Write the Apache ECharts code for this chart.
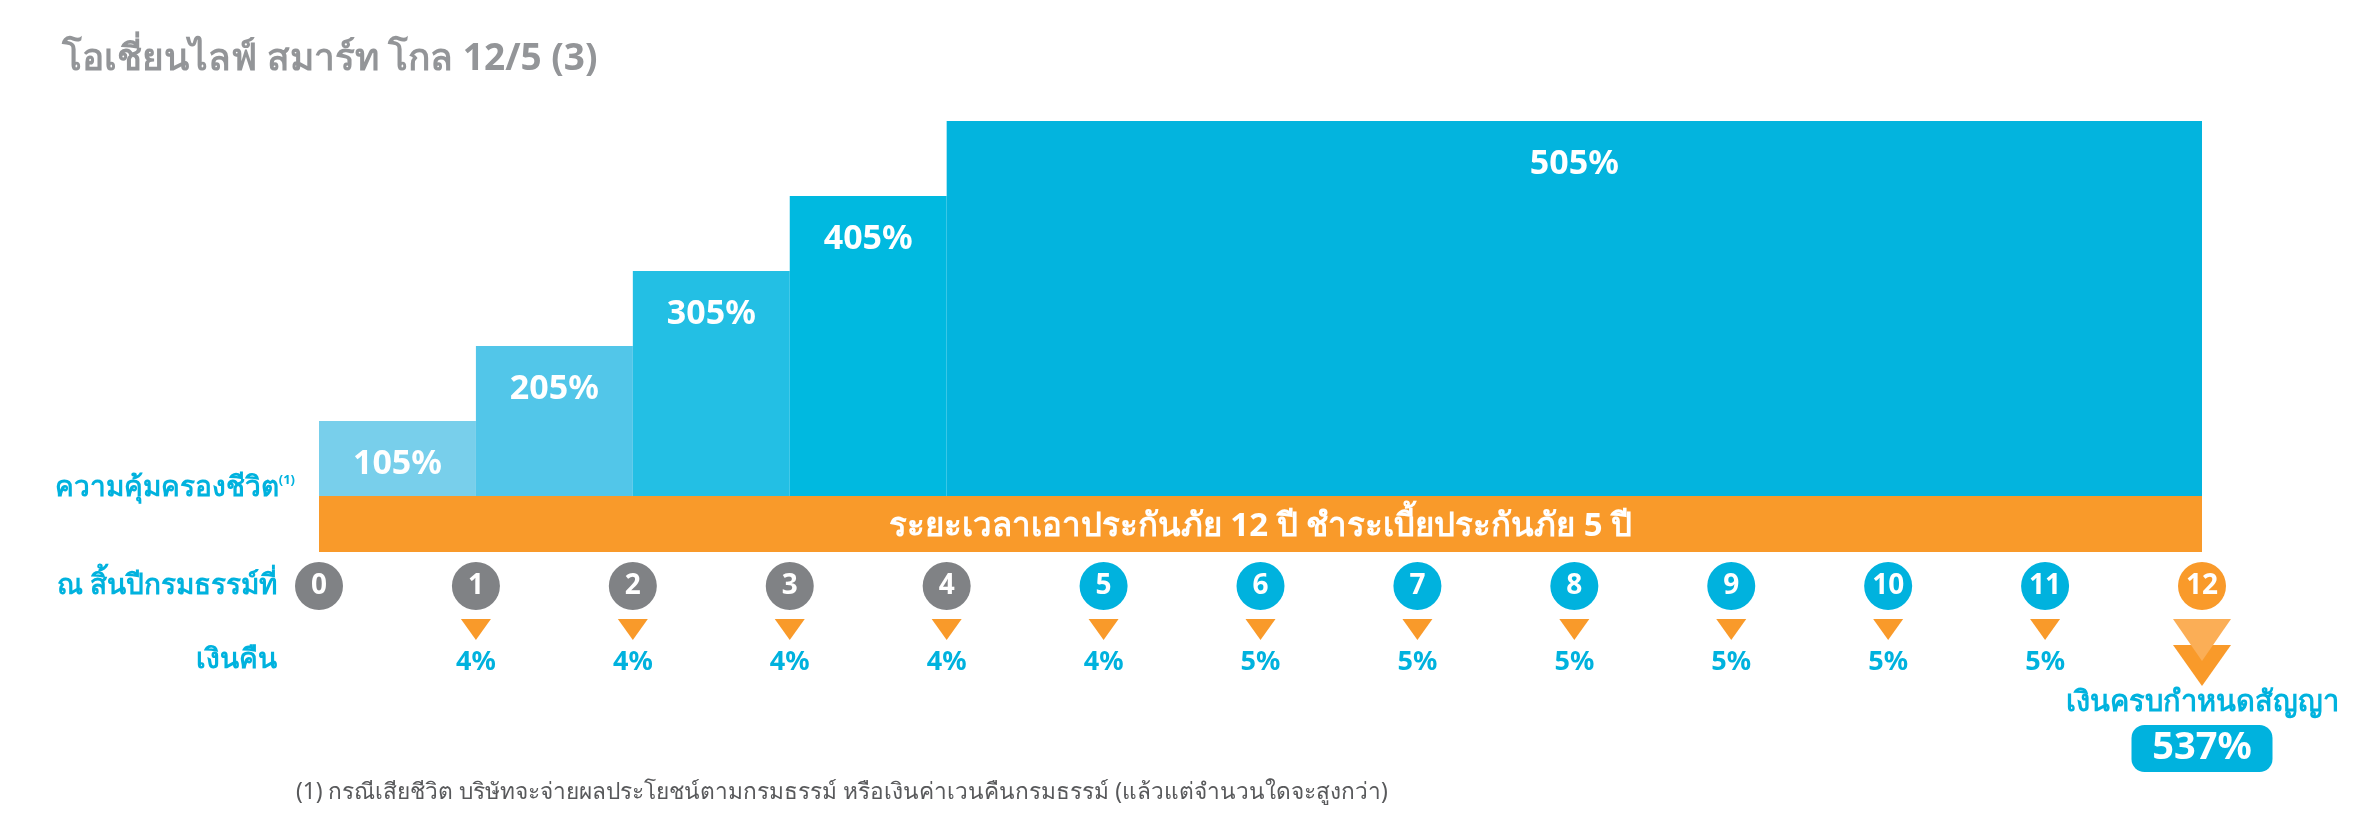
<!DOCTYPE html>
<html>
<head>
<meta charset="utf-8">
<title>โอเชี่ยนไลฟ์ สมาร์ท โกล 12/5 (3)</title>
<script src="https://cdn.jsdelivr.net/npm/echarts@6/dist/echarts.min.js"></script>
<style>
    html, body { margin: 0; background: #fff; }
    #main { width: 2362px; height: 827px; }
</style>
</head>
<body>
<div id="main"></div>
<script>
// coverage steps, policy years from/to and % of sum insured
var coverageFrom = [0, 1, 2, 3, 4];
var coverageTo = [1, 2, 3, 4, 12];
var coverageValues = [105, 205, 305, 405, 505];
var coverageColors = ['#78CFEB', '#52C6E9', '#23BFE4', '#00B9E0', '#03B4DE'];

var years = [0, 1, 2, 3, 4, 5, 6, 7, 8, 9, 10, 11, 12];
var paybackYears = [1, 2, 3, 4, 5, 6, 7, 8, 9, 10, 11];
var paybackValues = [4, 4, 4, 4, 4, 5, 5, 5, 5, 5, 5];
var maturityYear = 12;
var maturityValue = 537;

var policyYears = 12;
var premiumYears = 5;

var BLUE = '#00B2DE', ORANGE = '#F99A2A', GRAY = '#808285';
var FONT = '"Noto Sans", "Open Sans", sans-serif';

function yearColor(y) {
    if (y === maturityYear) return ORANGE;
    return y >= premiumYears ? BLUE : GRAY;
}

// rows under the chart, every row is its own grid on the same year scale
var grids = [
    { left: 319, width: 1883, top: 121, height: 375 },  // coverage steps
    { left: 319, width: 1883, top: 496, height: 56 },   // orange band
    { left: 319, width: 1883, top: 562, height: 48 },   // year circles
    { left: 319, width: 1883, top: 619, height: 21 },   // triangles
    { left: 319, width: 1883, top: 648, height: 24 },   // payback %
    { left: 319, width: 1883, top: 690, height: 26 },   // maturity caption
    { left: 319, width: 1883, top: 725, height: 47 }    // maturity box
];
var rowLabels = [null, '', 'ณ สิ้นปีกรมธรรม์ที่', '', 'เงินคืน', '', ''];

var xAxes = grids.map(function (g, i) {
    return { type: 'value', gridIndex: i, min: 0, max: policyYears, show: false };
});
var yAxes = grids.map(function (g, i) {
    if (i === 0) return { type: 'value', gridIndex: 0, min: 5, max: 505, show: false };
    return {
        type: 'category', gridIndex: i, data: [rowLabels[i]],
        axisLine: { show: false }, axisTick: { show: false },
        axisLabel: { margin: 42, fontFamily: FONT, fontSize: 28, fontWeight: 'bold', color: BLUE }
    };
});

var coverageData = coverageValues.map(function (v, i) {
    return [coverageFrom[i], coverageTo[i], v];
});

function renderStep(params, api) {
    var topLeft = api.coord([api.value(0), api.value(2)]);
    var bottomRight = api.coord([api.value(1), 5]);
    return {
        type: 'group',
        children: [{
            type: 'rect',
            shape: { x: topLeft[0], y: topLeft[1], width: bottomRight[0] - topLeft[0], height: bottomRight[1] - topLeft[1] },
            style: { fill: coverageColors[params.dataIndex] }
        }, {
            type: 'text',
            style: {
                text: api.value(2) + '%',
                x: (topLeft[0] + bottomRight[0]) / 2,
                y: topLeft[1] + 43,
                align: 'center', verticalAlign: 'middle',
                fill: '#fff', fontFamily: FONT, fontSize: 34, fontWeight: 'bold'
            }
        }]
    };
}

var chart = echarts.init(document.getElementById('main'));
var option = {
    animation: false,
    backgroundColor: '#fff',
    title: [{
        text: 'โอเชี่ยนไลฟ์ สมาร์ท โกล 12/5 (3)',
        left: 62, top: 41, padding: 0,
        textStyle: { fontFamily: FONT, fontSize: 37, fontWeight: 'bold', color: '#939598' }
    }, {
        text: 'ความคุ้มครองชีวิต{sup|(1)}',
        right: 2067, top: 474, padding: 0,
        textStyle: {
            fontFamily: FONT, fontSize: 28, fontWeight: 'bold', color: BLUE,
            rich: { sup: { fontFamily: FONT, fontSize: 13, fontWeight: 'bold', color: BLUE, verticalAlign: 'top', padding: [0, 0, 10, 0] } }
        }
    }, {
        text: '(1) กรณีเสียชีวิต บริษัทจะจ่ายผลประโยชน์ตามกรมธรรม์ หรือเงินค่าเวนคืนกรมธรรม์ (แล้วแต่จำนวนใดจะสูงกว่า)',
        left: 296, top: 781, padding: 0,
        textStyle: { fontFamily: FONT, fontSize: 22.7, fontWeight: 'normal', color: '#58595B' }
    }],
    grid: grids,
    xAxis: xAxes,
    yAxis: yAxes,
    series: [{
        type: 'custom',
        xAxisIndex: 0, yAxisIndex: 0,
        renderItem: renderStep,
        encode: { x: [0, 1], y: 2 },
        data: coverageData
    }, {
        type: 'bar',
        xAxisIndex: 1, yAxisIndex: 1,
        barWidth: '100%',
        data: [policyYears],
        itemStyle: { color: ORANGE },
        label: {
            show: true, position: 'inside', offset: [0, 3],
            formatter: 'ระยะเวลาเอาประกันภัย ' + policyYears + ' ปี ชำระเบี้ยประกันภัย ' + premiumYears + ' ปี',
            fontFamily: FONT, fontSize: 33, fontWeight: 'bold', color: '#fff'
        }
    }, {
        type: 'scatter',
        xAxisIndex: 2, yAxisIndex: 2,
        symbol: 'circle', symbolSize: 48,
        itemStyle: { opacity: 1 },
        data: years.map(function (y) {
            return { value: [y, 0], itemStyle: { color: yearColor(y), opacity: 1 } };
        }),
        label: {
            show: true, position: 'inside',
            formatter: function (p) { return p.value[0]; },
            fontFamily: FONT, fontSize: 28, fontWeight: 'bold', color: '#fff'
        }
    }, {
        type: 'scatter',
        xAxisIndex: 3, yAxisIndex: 3,
        symbol: 'path://M0 0L30 0L15 21Z', symbolSize: [30, 21], symbolKeepAspect: false,
        itemStyle: { color: ORANGE, opacity: 1 },
        data: paybackYears.map(function (y) { return [y, 0]; })
    }, {
        type: 'scatter',
        xAxisIndex: 3, yAxisIndex: 3,
        symbol: 'path://M0 0L58 0L29 41Z', symbolSize: [58, 41], symbolKeepAspect: false,
        symbolOffset: [0, 36],
        itemStyle: { color: ORANGE, opacity: 1 },
        data: [[maturityYear, 0]]
    }, {
        type: 'scatter',
        xAxisIndex: 3, yAxisIndex: 3,
        symbol: 'path://M0 0L58 0L29 42Z', symbolSize: [58, 42], symbolKeepAspect: false,
        symbolOffset: [0, 10.5],
        itemStyle: { color: '#FBAE56', opacity: 1 },
        data: [[maturityYear, 0]]
    }, {
        type: 'scatter',
        xAxisIndex: 4, yAxisIndex: 4,
        symbolSize: 0,
        itemStyle: { opacity: 1 },
        data: paybackYears.map(function (y, i) { return [y, 0, paybackValues[i]]; }),
        label: {
            show: true, position: 'inside', offset: [0, 2],
            formatter: function (p) { return p.value[2] + '%'; },
            fontFamily: FONT, fontSize: 27, fontWeight: 'bold', color: BLUE
        }
    }, {
        type: 'scatter',
        xAxisIndex: 5, yAxisIndex: 5,
        symbolSize: 0,
        itemStyle: { opacity: 1 },
        data: [[maturityYear, 0]],
        label: {
            show: true, position: 'inside',
            formatter: 'เงินครบกำหนดสัญญา',
            fontFamily: FONT, fontSize: 29, fontWeight: 'bold', color: BLUE
        }
    }, {
        type: 'scatter',
        xAxisIndex: 6, yAxisIndex: 6,
        symbolSize: 0,
        itemStyle: { opacity: 1 },
        data: [[maturityYear, 0, maturityValue]],
        label: {
            show: true, position: 'inside',
            formatter: function (p) { return p.value[2] + '%'; },
            width: 141, height: 47, lineHeight: 47,
            align: 'center', verticalAlign: 'middle',
            backgroundColor: BLUE, borderRadius: 13,
            fontFamily: FONT, fontSize: 38, fontWeight: 'bold', color: '#fff'
        }
    }]
};
chart.setOption(option);
</script>
</body>
</html>
